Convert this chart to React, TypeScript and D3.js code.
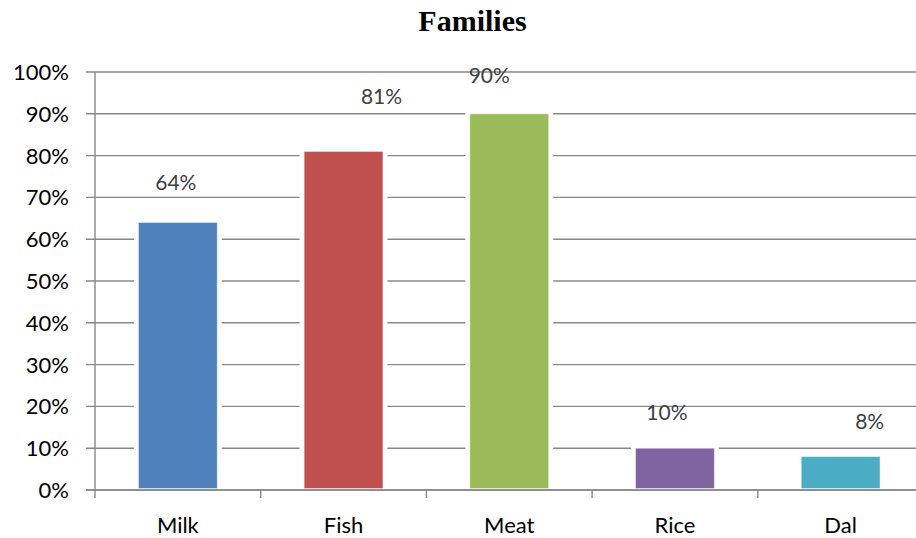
import React from "react";
import * as d3 from "d3";

// Share of families consuming each food item
const categories = ["Milk", "Fish", "Meat", "Rice", "Dal"];
const shares = [64, 81, 90, 10, 8];
const barColors = ["#4F81BD", "#C0504D", "#9BBB59", "#8064A2", "#4BACC6"];
const yTicks = [0, 10, 20, 30, 40, 50, 60, 70, 80, 90, 100];

// Manual placement tweaks for the value labels: [dx, dy from bar top]
const labelNudge: [number, number][] = [
  [-2, -32],
  [38, -47],
  [-20, -31],
  [-8, -28],
  [29, -28],
];

const W = 916;
const H = 538;
const left = 95;
const right = 923.5;
const top = 72;
const bottom = 490;
const font = "Lato, 'Open Sans', sans-serif";

export default function App() {
  const x = d3.scaleBand<string>().domain(categories).range([left, right]).paddingInner(0.524).paddingOuter(0.262);
  const xTick = d3.scaleBand<string>().domain(categories).range([left, right]);
  const y = d3.scaleLinear().domain([0, 100]).range([bottom, top]);
  const grid = "#888888";

  return (
    <svg width={W} height={H} style={{ position: "absolute", left: 0, top: 0, background: "#fff" }}>
      <text x={472.5} y={31} textAnchor="middle" fontFamily="'Liberation Serif', 'Times New Roman', serif" fontWeight="bold" fontSize={30} fill="#000">
        Families
      </text>

      {yTicks.map((t) => (
        <g key={t}>
          <line x1={86} x2={W} y1={y(t)} y2={y(t)} stroke={grid} strokeWidth={1.4} />
          <text x={69} y={y(t)} dy="0.36em" textAnchor="end" fontFamily={font} fontSize={22} fill="#000">
            {t}%
          </text>
        </g>
      ))}

      {/* white halo that breaks gridlines around each bar */}
      {categories.map((c, i) => (
        <rect key={"h" + c} x={x(c)! - 4.5} y={y(shares[i]) - 4} width={x.bandwidth() + 9} height={bottom - y(shares[i]) + 2} fill="#fff" />
      ))}

      <line x1={left} x2={left} y1={top} y2={bottom} stroke={grid} strokeWidth={1.4} />
      <line x1={86} x2={W} y1={bottom} y2={bottom} stroke={grid} strokeWidth={1.4} />
      {[...categories.map((c) => xTick(c)!), right].map((tx, i) => (
        <line key={"t" + i} x1={tx} x2={tx} y1={bottom} y2={bottom + 8} stroke={grid} strokeWidth={1.4} />
      ))}

      {categories.map((c, i) => (
        <rect key={c} x={x(c)!} y={y(shares[i])} width={x.bandwidth()} height={bottom - 1.5 - y(shares[i])} fill={barColors[i]} stroke="#fff" strokeOpacity={0.5} strokeWidth={1} />
      ))}

      {categories.map((c, i) => (
        <text key={"v" + c} x={x(c)! + x.bandwidth() / 2 + labelNudge[i][0]} y={y(shares[i]) + labelNudge[i][1]} textAnchor="middle" fontFamily={font} fontSize={21} fill="#404040">
          {shares[i]}%
        </text>
      ))}

      {categories.map((c) => (
        <text key={"c" + c} x={xTick(c)! + xTick.bandwidth() / 2} y={533} textAnchor="middle" fontFamily={font} fontSize={22} fill="#000">
          {c}
        </text>
      ))}
    </svg>
  );
}
